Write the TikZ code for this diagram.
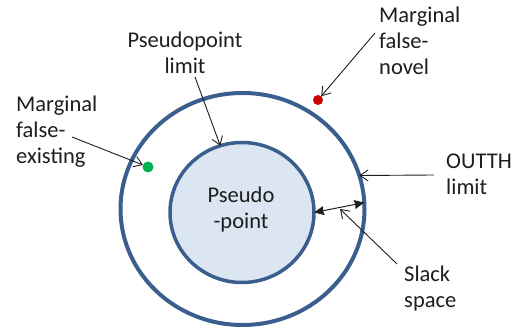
\documentclass[tikz,border=0pt]{standalone}
\usepackage{fontspec}
\setmainfont{Carlito}
\usetikzlibrary{shapes.geometric,arrows.meta}

\definecolor{ringblue}{HTML}{3A5F8E}
\definecolor{corefill}{HTML}{DCE6F2}
\definecolor{inkgray}{HTML}{1E1E1E}
\definecolor{dotgreen}{HTML}{00B050}
\definecolor{dotred}{HTML}{C80000}

% stacked lines whose baseline is that of the first line
\newcommand{\stacklines}[2][l]{\begin{tabular}[t]{@{}#1@{}}#2\end{tabular}}

\begin{document}
\begin{tikzpicture}[x=1pt,y=-1pt,
  ring/.style={ellipse, draw=ringblue, inner sep=0pt, outer sep=0pt},
  caption/.style={inner sep=0pt, text=inkgray, font=\fontsize{22.5}{25.7}\selectfont},
  pointer/.style={draw=inkgray, line width=0.9pt, -{Straight Barb[length=8pt,width=11pt]}},
  span/.style={draw=inkgray, line width=1pt,
    {Stealth[length=10pt,width=9pt,inset=1pt]}-{Stealth[length=10pt,width=9pt,inset=1pt]}},
  dot/.style={circle, inner sep=0pt, outer sep=0pt, minimum size=11pt}]

\useasboundingbox (0,0) rectangle (514,328);

% limits
\node[ring, line width=4pt, minimum width=244pt, minimum height=232pt] (outer) at (242.5,209) {};
\node[ring, line width=3.5pt, fill=corefill, minimum width=144pt, minimum height=140pt] (core) at (242,212.5) {};
\node[caption, anchor=base] (coretext) at (241,203) {\stacklines[c]{Pseudo\\-point}};

% marginal points
\node[dot, fill=dotgreen] (gdot) at (148,167) {};
\node[dot, fill=dotred, minimum size=10pt] (rdot) at (318,100) {};

% labels
\node[caption, anchor=base] (plimit) at (185,48) {\stacklines[c]{Pseudopoint\\limit}};
\node[caption, anchor=base west] (fexist) at (16,112) {\stacklines{Marginal\\false-\\existing}};
\node[caption, anchor=base west] (fnovel) at (379,23) {\stacklines{Marginal\\false-\\novel}};
\node[caption, anchor=base west] (outth) at (446,169) {\stacklines{OUTTH\\limit}};
\node[caption, anchor=base west] (slack) at (404,282) {\stacklines{Slack\\space}};

% pointer tails
\coordinate (plimit-tail) at (195,77);
\coordinate (fexist-tail) at (72,137);
\coordinate (fnovel-tail) at (375,33);
\coordinate (outth-tail) at (434,175);
\coordinate (slack-tail) at (397,264);
\coordinate (gap-mid) at (340,209);

% pointers
\draw[pointer] (plimit-tail) -- (core.108);
\draw[pointer] (fexist-tail) -- (gdot.158);
\draw[pointer] (fnovel-tail) -- (rdot.50);
\draw[pointer] (outth-tail) -- (outer.16.5);
\draw[span] (core.0) -- (outer.3.5);
\draw[pointer] (slack-tail) -- (gap-mid);
\end{tikzpicture}
\end{document}
